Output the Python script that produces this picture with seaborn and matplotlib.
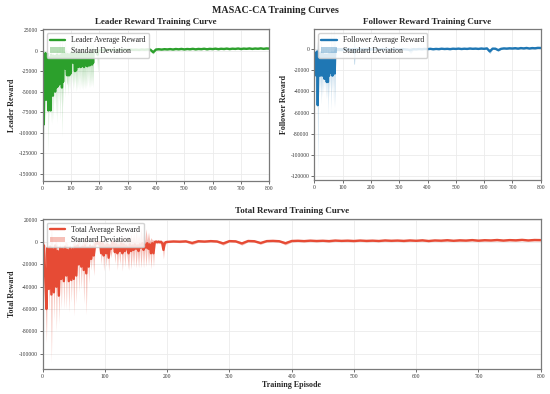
import numpy as np
import pandas as pd
import matplotlib
matplotlib.use("Agg")
import matplotlib.pyplot as plt
import seaborn as sns

# episodes: every 2nd episode for the noisy start, every 10th afterwards
early_episodes = list(range(0, 200, 2))
late_episodes = list(range(200, 801, 10))

# values below are in thousands of reward units
leader_early_mean = [
    -95, -5, -90, -8, -50, -3, -60, -6, -48, -4,
    -73, -8, -72, -10, -73, -5, -50, -8, -55, -6,
    -45, -10, -50, -7, -45, -5, -44, -9, -42, -6,
    -35, -8, -40, -5, -45, -4, -38, -6, -20, -3,
    -22, -5, -18, -30, -4, -30, -6, -30, -5, -28,
    -3, -15, -4, -14, -3, -15, -6, -25, -4, -24,
    -5, -18, -3, -20, -4, -18, -5, -20, -3, -19,
    -4, -18, -5, -20, -3, -17, -4, -18, -5, -19,
    -3, -17, -4, -18, -3, -16, -4, -17, -3, -15,
    -2, 0, -1, 0, -1, 0, -1, -5, 0, 0,
]
leader_early_std = [
    55, 20, 20, 10, 40, 5, 20, 5, 30, 5,
    52, 8, 10, 8, 15, 5, 40, 6, 30, 5,
    20, 6, 15, 5, 35, 5, 45, 6, 20, 5,
    50, 6, 25, 5, 60, 5, 30, 5, 20, 4,
    35, 4, 20, 12, 4, 25, 5, 15, 4, 20,
    3, 25, 4, 35, 3, 30, 4, 15, 3, 26,
    4, 30, 3, 25, 3, 30, 4, 25, 3, 28,
    3, 30, 4, 25, 3, 30, 3, 28, 4, 25,
    3, 28, 3, 27, 3, 28, 3, 26, 3, 30,
    2, 2, 2, 2, 2, 2, 2, 22, 2, 2,
]
leader_late_mean = [
    0.3, 0.8, 0.5, 0.9, 0.6, 1.0, 0.7, 1.1, 0.8, 1.2,
    0.9, 1.3, 1.0, 1.2, 0.9, 1.4, 1.1, 1.5, 1.2, -2.0,
    1.4, 1.7, 1.3, 1.8, 1.5, 1.9, 1.4, 2.0, 1.6, 2.1,
    1.5, 2.0, 1.7, 2.2, 1.6, 2.1, 1.8, 2.3, 1.7, 2.2,
    1.9, 2.4, 1.8, 2.3, 2.0, 2.5, 1.9, 2.4, 2.1, 2.6,
    2.0, 2.5, 2.2, 2.7, 2.1, 2.6, 2.3, 2.8, 2.2, 2.7,
    2.5,
]
leader_late_std = [
    0.8, 0.7, 0.9, 0.8, 0.7, 0.9, 0.8, 0.7, 0.9, 0.8,
    0.7, 0.9, 0.8, 0.7, 0.9, 0.8, 0.7, 0.9, 0.8, 2.0,
    0.9, 0.8, 0.7, 0.9, 0.8, 0.7, 0.9, 0.8, 0.7, 0.9,
    0.8, 0.7, 0.9, 0.8, 0.7, 0.9, 0.8, 0.7, 0.9, 0.8,
    0.7, 0.9, 0.8, 0.7, 0.9, 0.8, 0.7, 0.9, 0.8, 0.7,
    0.9, 0.8, 0.7, 0.9, 0.8, 0.7, 0.9, 0.8, 0.7, 0.9,
    0.8,
]

follower_early_mean = [
    -25, -3, -24, -5, -25, -2, -53, -4, -20, -6,
    -25, -3, -22, -8, -25, -4, -20, -6, -28, -5,
    -22, -7, -31, -5, -31, -6, -25, -4, -22, -5,
    -20, -3, -25, -4, -18, -3, -23, -2, -0.5, 0.2,
    -0.5, 0.2, -0.4, 0.3, -0.5, 0.1, -0.3, 0.2, -0.5, 0.1,
    -0.4, 0.2, -0.5, 0.3, -0.4, 0.1, -0.5, 0.2, -0.3, 0.1,
    -0.5, 0.2, -0.4, 0.3, -0.5, 0.1, -0.4, 0.2, -0.5, 0.1,
    -3, -3, -0.4, 0.2, -0.5, 0.3, -0.4, 0.1, -0.5, 0.2,
    -0.4, 0.1, -0.5, 0.2, -0.3, 0.3, -0.5, 0.1, -0.4, 0.2,
    -0.5, 0.1, -0.4, 0.2, -0.5, 0.3, -0.4, 0.1, -0.5, 0.2,
]
follower_early_std = [
    10, 3, 15, 5, 10, 3, 65, 3, 25, 4,
    15, 3, 30, 4, 20, 3, 22, 4, 12, 3,
    25, 4, 15, 3, 31, 4, 20, 3, 15, 3,
    38, 3, 15, 3, 37, 3, 32, 2, 1.5, 1.5,
    1.5, 1.5, 1.5, 1.5, 1.5, 1.5, 1.5, 1.5, 1.5, 1.5,
    1.5, 1.5, 1.5, 1.5, 1.5, 1.5, 1.5, 1.5, 1.5, 1.5,
    1.5, 1.5, 1.5, 1.5, 1.5, 1.5, 1.5, 1.5, 1.5, 1.5,
    11, 11, 1.5, 1.5, 1.5, 1.5, 1.5, 1.5, 1.5, 1.5,
    1.5, 1.5, 1.5, 1.5, 1.5, 1.5, 1.5, 1.5, 1.5, 1.5,
    1.5, 1.5, 1.5, 1.5, 1.5, 1.5, 1.5, 1.5, 1.5, 1.5,
]
follower_late_mean = [
    0.1, -0.3, 0.2, -0.2, 0.3, -0.1, 0.2, -0.3, 0.1, 0.2,
    -0.2, 0.3, 0.1, -0.2, -0.8, 0.2, 0.0, 0.3, 0.1, 0.4,
    0.2, 0.5, 0.1, 0.4, 0.2, 0.6, 0.3, 0.5, 0.2, 0.6,
    0.4, 0.7, 0.3, 0.6, 0.4, 0.8, 0.5, 0.7, 0.4, 0.8,
    0.5, 0.9, -2.0, 0.7, 0.6, -0.8, 0.5, 0.9, 0.7, 1.0,
    0.8, 1.1, 0.7, 1.2, 0.9, 1.3, 0.8, 1.2, 1.0, 1.4,
    1.3,
]
follower_late_std = [
    0.6, 0.5, 0.7, 0.6, 0.5, 0.7, 0.6, 0.5, 0.7, 0.6,
    0.5, 0.7, 0.6, 0.5, 3.0, 0.7, 0.6, 0.5, 0.7, 0.6,
    0.5, 0.7, 0.6, 0.5, 0.7, 0.6, 0.5, 0.7, 0.6, 0.5,
    0.7, 0.6, 0.5, 0.7, 0.6, 0.5, 0.7, 0.6, 0.5, 0.7,
    0.6, 0.5, 2.0, 0.6, 0.5, 1.0, 0.6, 0.5, 0.7, 0.6,
    0.5, 0.7, 0.6, 0.5, 0.7, 0.6, 0.5, 0.7, 0.6, 0.5,
    0.6,
]

total_early_mean = [
    -35, -3, -30, -60, -5, -42, -4, -47, -6, -45,
    -3, -40, -8, -48, -5, -33, -6, -35, -4, -30,
    -7, -35, -5, -34, -6, -33, -4, -30, -3, -20,
    -5, -22, -4, -25, -3, -28, -5, -22, -3, -15,
    -4, -12, -3, -1, 0, -2, 0, -10, -1, -12,
    -3, -10, -2, -14, -3, -6, 0, -1, -9, -2,
    -10, -3, -8, -1, -10, -2, -8, -3, -5, -10,
    -2, -8, -3, -7, -2, -6, -3, -8, -2, -5,
    -1, -7, -2, -5, -1, -6, -2, -10, -1, -10,
    0, 0.5, 0, 0.5, 0, 0.3, -1, -7, -1, 0,
]
total_early_std = [
    10, 5, 20, 30, 5, 20, 5, 61, 5, 25,
    5, 40, 5, 25, 5, 27, 5, 25, 4, 30,
    5, 28, 4, 20, 5, 33, 4, 25, 3, 25,
    4, 20, 4, 30, 3, 37, 4, 15, 3, 10,
    3, 18, 3, 2, 2, 3, 2, 10, 2, 14,
    3, 12, 2, 12, 3, 8, 2, 2, 10, 3,
    15, 3, 12, 2, 16, 3, 14, 3, 10, 15,
    3, 16, 4, 15, 3, 17, 4, 15, 3, 18,
    3, 16, 3, 17, 3, 15, 3, 14, 3, 12,
    1.5, 1.5, 1.5, 1.5, 1.5, 1.5, 2, 8, 2, 1.5,
]
total_late_mean = [
    0.2, 0.6, 0.4, 0.7, -0.8, 0.8, 0.5, 0.9, 0.6, -1.2,
    0.9, 0.7, -1.2, 1.0, 0.8, -0.8, 0.9, 1.1, 0.8, -1.0,
    1.0, 1.2, 0.9, 1.3, 1.0, 1.2, 0.9, 1.4, 1.1, 1.3,
    1.0, 1.4, 1.1, 1.3, 1.0, 1.5, 1.2, 1.4, 1.1, 1.5,
    1.2, 1.6, 1.0, 1.5, 1.3, 1.7, 1.2, 1.6, 1.4, 1.8,
    1.3, 1.7, 1.5, 1.9, 1.4, 1.8, 1.6, 2.0, 1.5, 1.9,
    1.8,
]
total_late_std = [
    0.8, 0.7, 0.9, 0.8, 1.5, 0.9, 0.8, 0.7, 0.9, 1.5,
    0.7, 0.9, 1.5, 0.7, 0.9, 1.2, 0.7, 0.9, 0.8, 1.5,
    0.9, 0.8, 0.7, 0.9, 0.8, 0.7, 0.9, 0.8, 0.7, 0.9,
    0.8, 0.7, 0.9, 0.8, 0.7, 0.9, 0.8, 0.7, 0.9, 0.8,
    0.7, 0.9, 0.8, 0.7, 0.9, 0.8, 0.7, 0.9, 0.8, 0.7,
    0.9, 0.8, 0.7, 0.9, 0.8, 0.7, 0.9, 0.8, 0.7, 0.9,
    0.8,
]

sns.set_style("whitegrid", {
    "axes.edgecolor": "#7a7a7a",
    "grid.color": "#ebebeb",
    "xtick.bottom": True,
    "ytick.left": True,
})
plt.rcParams["font.family"] = ["Liberation Serif", "DejaVu Serif"]
plt.rcParams["axes.unicode_minus"] = False


def make_frame(early_mean, early_std, late_mean, late_std):
    df = pd.DataFrame({
        "episode": early_episodes + late_episodes,
        "mean": early_mean + late_mean,
        "std": early_std + late_std,
    })
    df["mean"] *= 1000
    df["std"] *= 1000
    return df


def draw_panel(ax, df, color, name, title, ylabel, ylim, yticks, xlabel=None):
    sns.lineplot(data=df, x="episode", y="mean", ax=ax, color=color,
                 linewidth=1.7, estimator=None, sort=False,
                 label=f"{name} Average Reward")
    ax.fill_between(df["episode"], df["mean"] - df["std"], df["mean"] + df["std"],
                    color=color, alpha=0.35, linewidth=0, label="Standard Deviation")
    ax.set_xlim(0, 800)
    ax.set_ylim(*ylim)
    ax.set_xticks(range(0, 801, 100))
    ax.set_yticks(yticks)
    ax.set_title(title, fontsize=6.5, fontweight="bold", pad=4)
    ax.set_ylabel(ylabel, fontsize=5.8, fontweight="bold", labelpad=2)
    ax.set_xlabel(xlabel if xlabel else "", fontsize=5.8, fontweight="bold", labelpad=1)
    ax.tick_params(labelsize=4, length=2, width=0.5, pad=1.5, colors="#333333")
    ax.grid(True, linewidth=0.6)
    for s in ax.spines.values():
        s.set_linewidth(0.9)
    ax.legend(loc="upper left", fontsize=5.6, framealpha=0.85, borderpad=0.4,
              handlelength=2.0, labelspacing=0.3, borderaxespad=0.5)


fig = plt.figure(figsize=(5.5, 3.94), dpi=100)
ax_leader = fig.add_axes([0.0776, 0.5406, 0.412, 0.385])
ax_follower = fig.add_axes([0.5715, 0.5431, 0.4116, 0.3825])
ax_total = fig.add_axes([0.0776, 0.0627, 0.9055, 0.3817])

leader = make_frame(leader_early_mean, leader_early_std, leader_late_mean, leader_late_std)
follower = make_frame(follower_early_mean, follower_early_std, follower_late_mean, follower_late_std)
total = make_frame(total_early_mean, total_early_std, total_late_mean, total_late_std)

draw_panel(ax_leader, leader, "#2ca02c", "Leader", "Leader Reward Training Curve",
           "Leader Reward", (-159000, 26000), range(-150000, 25001, 25000))
draw_panel(ax_follower, follower, "#1f77b4", "Follower", "Follower Reward Training Curve",
           "Follower Reward", (-124000, 19000), range(-120000, 1, 20000))
draw_panel(ax_total, total, "#e64b35", "Total", "Total Reward Training Curve",
           "Total Reward", (-114000, 20800), range(-100000, 20001, 20000),
           xlabel="Training Episode")

fig.suptitle("MASAC-CA Training Curves", fontsize=7.2, fontweight="bold", y=0.985)
fig.savefig("out.png", dpi=100)
